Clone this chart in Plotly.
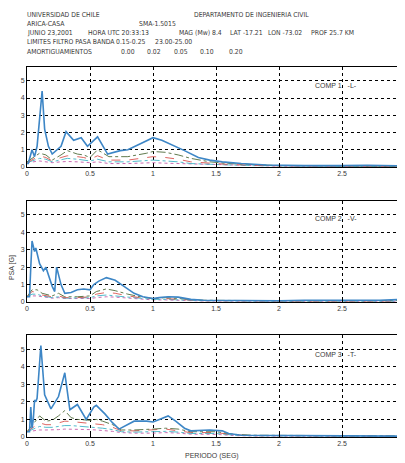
import plotly.graph_objects as go

# espectros PSA [G] vs periodo [s], leidos del grafico
# componente 1 -L-
periodo_L_0 = [0.0, 0.01, 0.04, 0.06, 0.08, 0.12, 0.14, 0.17, 0.2, 0.27, 0.31, 0.37, 0.43, 0.48, 0.56, 0.64,
               0.74, 0.8, 0.9, 1.0, 1.07, 1.15, 1.25, 1.36, 1.45, 1.55, 1.7, 1.9, 2.0, 2.2, 2.5, 2.7, 3.0]
psa_L_000 = [0.2, 0.2, 1.0, 0.6, 1.2, 4.4, 2.2, 1.2, 0.75, 1.2, 2.05, 1.55, 1.7, 1.2, 1.75, 0.75,
             0.95, 1.0, 1.35, 1.7, 1.55, 1.3, 0.95, 0.55, 0.4, 0.3, 0.2, 0.12, 0.1, 0.08, 0.08, 0.1, 0.07]
periodo_L_d = [0, 0.1, 0.15, 0.2, 0.27, 0.32, 0.4, 0.45, 0.5, 0.56, 0.65, 0.8, 0.95, 1.0, 1.1, 1.2,
               1.3, 1.45, 1.6, 1.8, 2.0, 2.5, 3.0]
psa_L_002 = [0.3, 0.8, 0.7, 0.4, 0.7, 0.95, 0.75, 0.7, 0.55, 1.0, 0.6, 0.6, 0.8, 0.9, 0.85, 0.7,
             0.5, 0.3, 0.2, 0.12, 0.08, 0.06, 0.05]
psa_L_005 = [0.25, 0.65, 0.55, 0.35, 0.55, 0.65, 0.6, 0.55, 0.45, 0.65, 0.4, 0.4, 0.55, 0.6, 0.55, 0.45,
             0.3, 0.22, 0.15, 0.1, 0.07, 0.05, 0.04]
psa_L_010 = [0.25, 0.5, 0.45, 0.3, 0.42, 0.5, 0.45, 0.42, 0.35, 0.45, 0.3, 0.3, 0.38, 0.4, 0.35, 0.3,
             0.2, 0.15, 0.12, 0.08, 0.06, 0.04, 0.03]
psa_L_020 = [0.25, 0.35, 0.3, 0.25, 0.3, 0.32, 0.3, 0.28, 0.25, 0.3, 0.2, 0.2, 0.24, 0.25, 0.22, 0.2,
             0.15, 0.12, 0.1, 0.07, 0.05, 0.04, 0.03]

# componente 2 -V-
periodo_V_0 = [0.0, 0.02, 0.03, 0.04, 0.06, 0.07, 0.1, 0.13, 0.15, 0.18, 0.2, 0.22, 0.235, 0.27, 0.3, 0.35,
               0.4, 0.45, 0.5, 0.53, 0.57, 0.63, 0.7, 0.77, 0.85, 0.92, 1.0, 1.05, 1.12, 1.2, 1.3, 1.4,
               1.6, 2.0, 2.2, 2.4, 2.6, 2.8, 3.0]
psa_V_000 = [0.3, 0.3, 2.0, 3.5, 2.9, 3.1, 2.2, 1.8, 2.0, 1.3, 0.9, 0.6, 2.0, 1.0, 0.5, 0.55,
             0.7, 0.75, 0.7, 1.0, 1.2, 1.4, 1.25, 0.9, 0.5, 0.3, 0.2, 0.25, 0.3, 0.28, 0.15, 0.1,
             0.08, 0.07, 0.1, 0.12, 0.1, 0.1, 0.15]
periodo_V_d = [0, 0.04, 0.08, 0.12, 0.2, 0.25, 0.3, 0.4, 0.5, 0.55, 0.63, 0.7, 0.8, 0.9, 1.0, 1.1,
               1.2, 1.4, 2.0, 2.4, 3.0]
psa_V_002 = [0.3, 0.7, 0.7, 0.5, 0.35, 0.5, 0.3, 0.3, 0.35, 0.6, 0.75, 0.65, 0.45, 0.3, 0.2, 0.25,
             0.2, 0.1, 0.07, 0.08, 0.08]
psa_V_005 = [0.3, 0.6, 0.55, 0.4, 0.3, 0.35, 0.25, 0.25, 0.3, 0.45, 0.55, 0.5, 0.35, 0.25, 0.2, 0.2,
             0.15, 0.08, 0.06, 0.06, 0.06]
psa_V_010 = [0.3, 0.45, 0.45, 0.35, 0.25, 0.3, 0.22, 0.22, 0.25, 0.35, 0.4, 0.35, 0.28, 0.2, 0.15, 0.15,
             0.12, 0.07, 0.05, 0.05, 0.05]
psa_V_020 = [0.3, 0.35, 0.35, 0.3, 0.22, 0.25, 0.2, 0.2, 0.2, 0.25, 0.3, 0.28, 0.22, 0.16, 0.12, 0.12,
             0.1, 0.06, 0.04, 0.04, 0.04]

# componente 3 -T-
periodo_T_0 = [0.0, 0.02, 0.03, 0.04, 0.05, 0.06, 0.07, 0.08, 0.11, 0.14, 0.19, 0.25, 0.30, 0.34, 0.40, 0.47,
               0.53, 0.55, 0.62, 0.68, 0.73, 0.8, 0.85, 0.95, 1.0, 1.05, 1.12, 1.18, 1.25, 1.3, 1.45, 1.55,
               1.6, 1.7, 2.0, 2.2, 2.5, 3.0]
psa_T_000 = [0.3, 0.3, 1.7, 0.5, 1.0, 2.1, 2.0, 2.2, 5.2, 2.4, 1.6, 2.3, 3.65, 1.55, 1.85, 1.0,
             1.7, 1.8, 1.3, 0.8, 0.45, 0.7, 0.9, 0.9, 0.85, 1.0, 1.2, 0.9, 0.5, 0.35, 0.4, 0.35,
             0.2, 0.1, 0.08, 0.1, 0.06, 0.05]
periodo_T_d = [0, 0.1, 0.15, 0.2, 0.25, 0.3, 0.35, 0.4, 0.5, 0.55, 0.6, 0.68, 0.75, 0.85, 1.0, 1.1,
               1.2, 1.3, 1.5, 1.65, 1.8, 2.1, 2.5, 3.0]
psa_T_002 = [0.3, 1.2, 0.9, 0.95, 1.2, 1.5, 1.1, 1.0, 0.95, 1.0, 0.9, 0.7, 0.4, 0.4, 0.45, 0.5,
             0.45, 0.3, 0.3, 0.15, 0.1, 0.1, 0.08, 0.06]
psa_T_005 = [0.3, 0.8, 0.7, 0.7, 0.8, 0.9, 0.88, 0.85, 0.8, 0.75, 0.7, 0.55, 0.35, 0.35, 0.4, 0.45,
             0.35, 0.25, 0.25, 0.12, 0.08, 0.08, 0.06, 0.05]
psa_T_010 = [0.3, 0.6, 0.55, 0.55, 0.6, 0.65, 0.65, 0.62, 0.6, 0.55, 0.5, 0.42, 0.3, 0.28, 0.3, 0.32,
             0.28, 0.2, 0.2, 0.1, 0.07, 0.06, 0.05, 0.04]
psa_T_020 = [0.3, 0.4, 0.4, 0.4, 0.42, 0.45, 0.45, 0.44, 0.42, 0.4, 0.38, 0.32, 0.25, 0.22, 0.22, 0.25,
             0.22, 0.16, 0.15, 0.08, 0.06, 0.05, 0.04, 0.03]

componentes = ["COMP 1   -L-", "COMP 2   -V-", "COMP 3   -T-"]
x_ticks = [0, 0.5, 1, 1.5, 2, 2.5, 3]
x_ticklabels = ["0", "0.5", "1", "1.5", "2", "2.5", "3"]
y_ticks = [0, 1, 2, 3, 4, 5]

# la pagina deja 8 px de margen en el body: la figura ocupa lo que queda de la ventana
W, H = 405, 463
OFF = 8
FW, FH = W - OFF, H - OFF


def px_x(px):
    return (px - OFF) / FW


def px_y(py):
    return 1 - (py - OFF) / FH


fuente = "Liberation Sans, Arial, sans-serif"
fuente_enc = "DejaVu Sans Condensed, Liberation Sans Narrow, Arial Narrow, sans-serif"
gris = "#3a3a3a"

# estilos por amortiguamiento (0, 2, 5, 10, 20 %)
estilos = [
    dict(color="#3d86c6", width=1.6, dash="solid"),
    dict(color="#4f6b3a", width=0.9, dash="dashdot"),
    dict(color="#d9534f", width=0.9, dash="dash"),
    dict(color="#3fb3c6", width=0.9, dash="dashdot"),
    dict(color="#c45aa8", width=0.9, dash="dot"),
]

paneles = [
    (periodo_L_0, psa_L_000, periodo_L_d, [psa_L_002, psa_L_005, psa_L_010, psa_L_020], (67, 167), 4.7),
    (periodo_V_0, psa_V_000, periodo_V_d, [psa_V_002, psa_V_005, psa_V_010, psa_V_020], (201, 302), 4.8),
    (periodo_T_0, psa_T_000, periodo_T_d, [psa_T_002, psa_T_005, psa_T_010, psa_T_020], (335, 437), 4.7),
]

fig = go.Figure()
layout = {}
annotations = []

for i, (t0, s0, td, sd, (ytop, ybot), ycomp) in enumerate(paneles):
    n = "" if i == 0 else str(i + 1)
    xa, ya = "x" + n, "y" + n
    for k, serie in enumerate(sd[::-1]):
        st = estilos[4 - k]
        fig.add_trace(go.Scatter(x=td, y=serie, mode="lines", line=st, xaxis=xa, yaxis=ya,
                                 showlegend=False, hoverinfo="skip"))
    fig.add_trace(go.Scatter(x=t0, y=s0, mode="lines", line=estilos[0], xaxis=xa, yaxis=ya,
                             showlegend=False, hoverinfo="skip"))

    layout["xaxis" + n] = dict(
        domain=[px_x(27), 1.0], range=[0, 3], anchor=ya, automargin=False,
        tickvals=x_ticks, ticktext=x_ticklabels, ticks="inside", ticklen=3, tickcolor="black",
        showline=True, linecolor="black", linewidth=1, mirror=True,
        showgrid=True, gridcolor="black", gridwidth=1, griddash="dot", zeroline=False,
        tickfont=dict(family=fuente, size=7, color=gris),
    )
    layout["yaxis" + n] = dict(
        domain=[px_y(ybot), px_y(ytop)], range=[0, 5.8], anchor=xa, automargin=False,
        tickvals=y_ticks, ticks="inside", ticklen=3, tickcolor="black",
        showline=True, linecolor="black", linewidth=1, mirror=True,
        showgrid=True, gridcolor="black", gridwidth=1, griddash="dot", zeroline=False,
        tickfont=dict(family=fuente, size=7, color=gris),
    )
    annotations.append(dict(x=2.27, y=ycomp, xref=xa, yref=ya, text=componentes[i],
                            showarrow=False, xanchor="left", yanchor="middle",
                            font=dict(family=fuente, size=7, color=gris)))

# encabezado
encabezado = [
    (25, 15, "UNIVERSIDAD DE CHILE"), (192, 15, "DEPARTAMENTO DE INGENIERIA CIVIL"),
    (25, 24, "ARICA-CASA"), (137, 24, "SMA-1.5015"),
    (25, 33, "JUNIO 23,2001"), (86, 33, "HORA UTC 20:33:13"), (177, 33, "MAG (Mw) 8.4"),
    (228, 33, "LAT -17.21"), (266, 33, "LON -73.02"), (309, 33, "PROF 25.7 KM"),
    (25, 42, "LIMITES FILTRO PASA BANDA"), (114, 42, "0.15-0.25"), (153, 42, "23.00-25.00"),
    (25, 52, "AMORTIGUAMIENTOS"), (119, 52, "0.00"), (145, 52, "0.02"), (172, 52, "0.05"),
    (198, 52, "0.10"), (227, 52, "0.20"),
]
for px, py, txt in encabezado:
    annotations.append(dict(x=px_x(px), y=px_y(py), xref="paper", yref="paper", text=txt,
                            showarrow=False, xanchor="left", yanchor="middle",
                            font=dict(family=fuente_enc, size=6.8, color=gris)))

annotations.append(dict(x=px_x(212), y=px_y(456), xref="paper", yref="paper", text="PERIODO (SEG)",
                        showarrow=False, xanchor="center", yanchor="middle",
                        font=dict(family=fuente, size=7, color=gris)))
annotations.append(dict(x=px_x(12), y=px_y(268), xref="paper", yref="paper", text="PSA [G]",
                        showarrow=False, textangle=-90, xanchor="center", yanchor="middle",
                        font=dict(family=fuente, size=7, color=gris)))

fig.update_layout(
    width=FW, height=FH,
    margin=dict(l=0, r=0, t=0, b=0),
    paper_bgcolor="white", plot_bgcolor="white",
    annotations=annotations,
    **layout,
)

fig.write_html("out.html")
